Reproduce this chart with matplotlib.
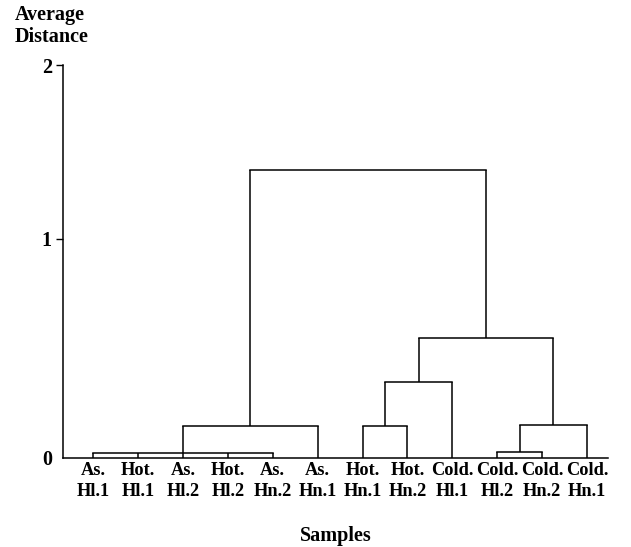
"""
Average-linkage dendrogram of the twelve samples.
"""

import matplotlib
matplotlib.use("Agg")
import matplotlib.pyplot as plt
import numpy as np

# ── Data ─────────────────────────────────────────────────────────────

leaf_labels = ["As.\nHl.1", "Hot.\nHl.1", "As.\nHl.2", "Hot.\nHl.2", "As.\nHn.2", "As.\nHn.1",
               "Hot.\nHn.1", "Hot.\nHn.2", "Cold.\nHl.1", "Cold.\nHl.2", "Cold.\nHn.2", "Cold.\nHn.1"]

# each merge joins the listed nodes; leaves are 0..11, merge k becomes node 12 + k
merge_children = [[0, 1, 2, 3, 4], [12, 5], [6, 7], [14, 8], [9, 10], [16, 11], [15, 17], [13, 18]]
merge_heights = [0.023, 0.146, 0.146, 0.347, 0.027, 0.149, 0.547, 1.395]

y_ticks = [0, 1, 2]

# the printed axis is not evenly spaced: 0→1 is longer than 1→2
axis_marks = [0, 1, 2]
axis_lengths = [0, 219, 392.7]


def forward(v):
    return np.interp(v, axis_marks, axis_lengths)


def inverse(p):
    return np.interp(p, axis_lengths, axis_marks)


# ── Plot ─────────────────────────────────────────────────────────────

plt.rcParams["font.family"] = ["Liberation Serif", "DejaVu Serif"]
plt.rcParams["font.weight"] = "bold"

fig = plt.figure(figsize=(6.31, 5.47), dpi=100)
ax = fig.add_axes([0.0998, 0.1633, 0.8638, 0.7177])
ax.set_yscale("function", functions=(forward, inverse))

n_leaves = len(leaf_labels)
node_x = list(range(n_leaves))
node_h = [0.0] * n_leaves

for children, h in zip(merge_children, merge_heights):
    xs = [node_x[c] for c in children]
    for c in children:
        ax.plot([node_x[c], node_x[c]], [node_h[c], h], color="black", lw=1.1, solid_capstyle="butt")
    ax.plot([min(xs), max(xs)], [h, h], color="black", lw=1.1, solid_capstyle="projecting")
    node_x.append(float(np.mean([min(xs), max(xs)])) if len(xs) == 2 else float(np.mean(xs)))
    node_h.append(h)

ax.set_xlim(-0.675, 11.47)
ax.set_ylim(0, 2)

ax.spines["top"].set_visible(False)
ax.spines["right"].set_visible(False)
for s in ("left", "bottom"):
    ax.spines[s].set_linewidth(1.1)

ax.set_yticks(y_ticks)
ax.set_yticklabels([str(t) for t in y_ticks], fontsize=14.5, fontweight="bold")
ax.tick_params(axis="y", length=5, width=1.0, pad=3)
ax.yaxis.get_major_ticks()[0].tick1line.set_visible(False)

ax.set_xticks(range(n_leaves))
ax.set_xticklabels(leaf_labels, fontsize=13.2, fontweight="bold", linespacing=1.3)
ax.tick_params(axis="x", length=0, pad=3)

ax.set_xlabel("Samples", fontsize=14.5, fontweight="bold", labelpad=19)

fig.text(15 / 631, 1 - 5 / 547, "Average\nDistance", ha="left", va="top",
         fontsize=14.5, fontweight="bold", linespacing=1.15)

fig.savefig("out.png", dpi=100)
plt.close(fig)
